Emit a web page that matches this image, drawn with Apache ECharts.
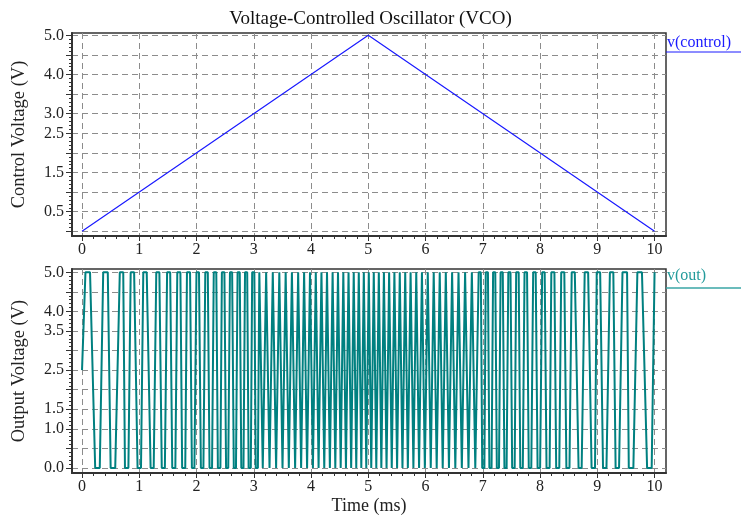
<!DOCTYPE html>
<html>
<head>
<meta charset="utf-8">
<title>Voltage-Controlled Oscillator (VCO)</title>
<script src="https://cdn.jsdelivr.net/npm/echarts@6/dist/echarts.min.js"></script>
<style>
  html, body { margin: 0; padding: 0; background: #ffffff; }
  #chart { width: 741px; height: 516px; }
</style>
</head>
<body>
<div id="chart"></div>
<script>
// Control voltage: linear ramp up to 5 V at 5 ms, then back down.
const ctrlTime = [0, 5, 10];
const ctrlVolt = [0, 5, 0];

// Oscillator output: start and end of each clipped plateau (5 V tops, 0 V bottoms).
const outTime = [
  0,
  0.06, 0.14, 0.23, 0.31, 0.37, 0.45, 0.50, 0.58, 0.66, 0.72,
  0.75, 0.81, 0.85, 0.91, 0.97, 1.03, 1.07, 1.13, 1.198, 1.252,
  1.297, 1.351, 1.393, 1.447, 1.486, 1.540, 1.576, 1.630, 1.664, 1.718,
  1.749, 1.803, 1.833, 1.887, 1.919, 1.963, 1.999, 2.043, 2.076, 2.120,
  2.153, 2.197, 2.227, 2.271, 2.301, 2.345, 2.373, 2.417, 2.443, 2.487,
  2.516, 2.554, 2.584, 2.622, 2.651, 2.689, 2.717, 2.755, 2.782, 2.820,
  2.847, 2.885, 2.910, 2.948, 2.972, 3.010, 3.034, 3.072, 3.097, 3.131,
  3.157, 3.191, 3.216, 3.250, 3.275, 3.309, 3.332, 3.366, 3.390, 3.424,
  3.446, 3.480, 3.502, 3.536, 3.557, 3.591, 3.612, 3.646, 3.666, 3.700,
  3.722, 3.752, 3.775, 3.805, 3.827, 3.857, 3.879, 3.909, 3.931, 3.961,
  3.982, 4.012, 4.033, 4.063, 4.083, 4.113, 4.132, 4.162, 4.182, 4.212,
  4.231, 4.261, 4.279, 4.309, 4.329, 4.355, 4.377, 4.403, 4.424, 4.450,
  4.471, 4.497, 4.518, 4.544, 4.564, 4.590, 4.610, 4.636, 4.655, 4.681,
  4.701, 4.727, 4.746, 4.772, 4.790, 4.816, 4.834, 4.860, 4.878, 4.904,
  4.922, 4.948, 4.965, 4.991,
  5.009, 5.035, 5.052, 5.078, 5.096, 5.122, 5.140, 5.166, 5.184, 5.210,
  5.228, 5.254, 5.273, 5.299, 5.319, 5.345, 5.364, 5.390, 5.410, 5.436,
  5.456, 5.482, 5.503, 5.529, 5.550, 5.576, 5.597, 5.623, 5.645, 5.671,
  5.691, 5.721, 5.739, 5.769, 5.788, 5.818, 5.838, 5.868, 5.887, 5.917,
  5.937, 5.967, 5.988, 6.018, 6.039, 6.069, 6.091, 6.121, 6.143, 6.173,
  6.195, 6.225, 6.248, 6.278, 6.300, 6.334, 6.354, 6.388, 6.409, 6.443,
  6.464, 6.498, 6.520, 6.554, 6.576, 6.610, 6.634, 6.668, 6.691, 6.725,
  6.750, 6.784, 6.809, 6.843, 6.869, 6.903, 6.928, 6.966, 6.990, 7.028,
  7.052, 7.090, 7.115, 7.153, 7.180, 7.218, 7.245, 7.283, 7.311, 7.349,
  7.378, 7.416, 7.446, 7.484, 7.513, 7.557, 7.583, 7.627, 7.655, 7.699,
  7.729, 7.773, 7.803, 7.847, 7.880, 7.924, 7.957, 8.001, 8.037, 8.081,
  8.113, 8.167, 8.197, 8.251, 8.282, 8.336, 8.370, 8.424, 8.460, 8.514,
  8.553, 8.607, 8.673, 8.727, 8.78, 8.84, 8.90, 8.96, 8.99, 9.05,
  9.10, 9.16, 9.22, 9.28, 9.32, 9.38, 9.44, 9.52, 9.55, 9.63,
  9.70, 9.78, 9.87, 9.95,
  10
];
const outVolt = [
  2.5,
  5, 5, 0, 0, 5, 5, 0, 0, 5, 5, 0, 0, 5, 5, 0, 0, 5, 5, 0, 0,
  5, 5, 0, 0, 5, 5, 0, 0, 5, 5, 0, 0, 5, 5, 0, 0, 5, 5, 0, 0,
  5, 5, 0, 0, 5, 5, 0, 0, 5, 5, 0, 0, 5, 5, 0, 0, 5, 5, 0, 0,
  5, 5, 0, 0, 5, 5, 0, 0, 5, 5, 0, 0, 5, 5, 0, 0, 5, 5, 0, 0,
  5, 5, 0, 0, 5, 5, 0, 0, 5, 5, 0, 0, 5, 5, 0, 0, 5, 5, 0, 0,
  5, 5, 0, 0, 5, 5, 0, 0, 5, 5, 0, 0, 5, 5, 0, 0, 5, 5, 0, 0,
  5, 5, 0, 0, 5, 5, 0, 0, 5, 5, 0, 0, 5, 5, 0, 0, 5, 5, 0, 0,
  5, 5, 0, 0, 5, 5, 0, 0,
  5, 5, 0, 0, 5, 5, 0, 0, 5, 5, 0, 0, 5, 5, 0, 0, 5, 5, 0, 0,
  5, 5, 0, 0, 5, 5, 0, 0, 5, 5, 0, 0, 5, 5, 0, 0, 5, 5, 0, 0,
  5, 5, 0, 0, 5, 5, 0, 0, 5, 5, 0, 0, 5, 5, 0, 0, 5, 5, 0, 0,
  5, 5, 0, 0, 5, 5, 0, 0, 5, 5, 0, 0, 5, 5, 0, 0, 5, 5, 0, 0,
  5, 5, 0, 0, 5, 5, 0, 0, 5, 5, 0, 0, 5, 5, 0, 0, 5, 5, 0, 0,
  5, 5, 0, 0, 5, 5, 0, 0, 5, 5, 0, 0, 5, 5, 0, 0, 5, 5, 0, 0,
  5, 5, 0, 0, 5, 5, 0, 0, 5, 5, 0, 0, 5, 5, 0, 0, 5, 5, 0, 0,
  5, 5, 0, 0, 5, 5, 0, 0,
  2.5
];

// Tick values
const timeTicks = [0, 1, 2, 3, 4, 5, 6, 7, 8, 9, 10];
const voltGrid = [0, 0.5, 1, 1.5, 2, 2.5, 3, 3.5, 4, 4.5, 5];
const ctrlLabels = [0.5, 1.5, 2.5, 3, 4, 5];
const outLabels = [0, 1, 1.5, 2.5, 3.5, 4, 5];

const FONT = "'Liberation Serif', 'Times New Roman', serif";
const INK = '#222222';
const FRAME = '#333333';
const GRID = '#8c8c8c';
const BLUE = '#1a1aff';
const TEAL = '#008080';

// Minor tick positions
const timeMinor = [];
for (let i = 0; i <= 50; i++) if (i % 5 !== 0) timeMinor.push(+(i * 0.2).toFixed(1));
const voltMinor = [];
for (let i = 0; i <= 50; i++) if (i % 5 !== 0) voltMinor.push(+(i * 0.1).toFixed(1));

const T_MIN = -0.175, T_MAX = 10.2;
const ranges = [[-0.12, 5.06], [-0.13, 5.085]];

function mainX(gi, withName) {
  return {
    type: 'value', gridIndex: gi, position: 'bottom', min: T_MIN, max: T_MAX,
    axisLine: { show: true, onZero: false, lineStyle: { color: FRAME, width: 2 } },
    axisTick: { show: true, customValues: timeTicks, length: 5, lineStyle: { color: FRAME, width: 1 } },
    axisLabel: { show: true, customValues: timeTicks, margin: 6, fontFamily: FONT, fontSize: 16, color: INK },
    splitLine: { show: true, lineStyle: { color: GRID, width: 1, type: [6, 4] } },
    name: withName ? 'Time (ms)' : '', nameLocation: 'middle', nameGap: 24,
    nameTextStyle: { fontFamily: FONT, fontSize: 18, color: INK }
  };
}
function minorX(gi) {
  return {
    type: 'value', gridIndex: gi, position: 'bottom', min: T_MIN, max: T_MAX,
    axisLine: { show: false, onZero: false },
    axisTick: { show: true, customValues: timeMinor, length: 3, lineStyle: { color: FRAME, width: 1 } },
    axisLabel: { show: false }, splitLine: { show: false }
  };
}
function mainY(gi, labels, name) {
  return {
    type: 'value', gridIndex: gi, position: 'left', min: ranges[gi][0], max: ranges[gi][1],
    axisLine: { show: true, onZero: false, lineStyle: { color: FRAME, width: 2 } },
    axisTick: { show: true, customValues: voltGrid, length: 6, lineStyle: { color: FRAME, width: 1 } },
    axisLabel: {
      show: true, customValues: labels, margin: 8, fontFamily: FONT, fontSize: 16, color: INK,
      formatter: v => Number(v).toFixed(1)
    },
    splitLine: { show: true, lineStyle: { color: GRID, width: 1, type: [6, 4] } },
    name: name, nameLocation: 'middle', nameGap: 43,
    nameTextStyle: { fontFamily: FONT, fontSize: 18.5, color: INK }
  };
}
function minorY(gi) {
  return {
    type: 'value', gridIndex: gi, position: 'left', min: ranges[gi][0], max: ranges[gi][1],
    axisLine: { show: false, onZero: false },
    axisTick: { show: true, customValues: voltMinor, length: 3, lineStyle: { color: FRAME, width: 1 } },
    axisLabel: { show: false }, splitLine: { show: false }
  };
}

const ctrlData = ctrlTime.map((t, i) => [t, ctrlVolt[i]]);
const outData = outTime.map((t, i) => [t, outVolt[i]]);

const chart = echarts.init(document.getElementById('chart'), null, { renderer: 'canvas' });
chart.setOption({
  animation: false,
  backgroundColor: '#ffffff',
  title: {
    text: 'Voltage-Controlled Oscillator (VCO)', left: 'center', top: 10, padding: 0,
    textStyle: { fontFamily: FONT, fontSize: 19, fontWeight: 'normal', color: '#111111' }
  },
  grid: [
    { left: 72, top: 33, width: 594, height: 203, show: true, borderColor: FRAME, borderWidth: 1.5, backgroundColor: 'transparent' },
    { left: 72, top: 269, width: 594, height: 205, show: true, borderColor: FRAME, borderWidth: 1.5, backgroundColor: 'transparent' }
  ],
  xAxis: [mainX(0, false), minorX(0), mainX(1, true), minorX(1)],
  yAxis: [
    mainY(0, ctrlLabels, 'Control Voltage (V)'), minorY(0),
    mainY(1, outLabels, 'Output Voltage (V)'), minorY(1)
  ],
  series: [
    {
      name: 'v(control)', type: 'line', xAxisIndex: 0, yAxisIndex: 0, data: ctrlData,
      showSymbol: false, symbol: 'none', lineStyle: { color: BLUE, width: 1.2 }
    },
    {
      name: 'v(out)', type: 'line', xAxisIndex: 2, yAxisIndex: 2, data: outData,
      showSymbol: false, symbol: 'none', lineStyle: { color: TEAL, width: 2 }
    }
  ],
  graphic: [
    { type: 'text', left: 667, top: 35, style: { text: 'v(control)', fill: BLUE, font: '16px ' + FONT } },
    { type: 'line', shape: { x1: 666, y1: 52, x2: 741, y2: 52 }, style: { stroke: BLUE, lineWidth: 1 } },
    { type: 'text', left: 667, top: 268, style: { text: 'v(out)', fill: '#239b9b', font: '16px ' + FONT } },
    { type: 'line', shape: { x1: 666, y1: 288, x2: 741, y2: 288 }, style: { stroke: '#3aa6a6', lineWidth: 1.5 } }
  ]
});
</script>
</body>
</html>
